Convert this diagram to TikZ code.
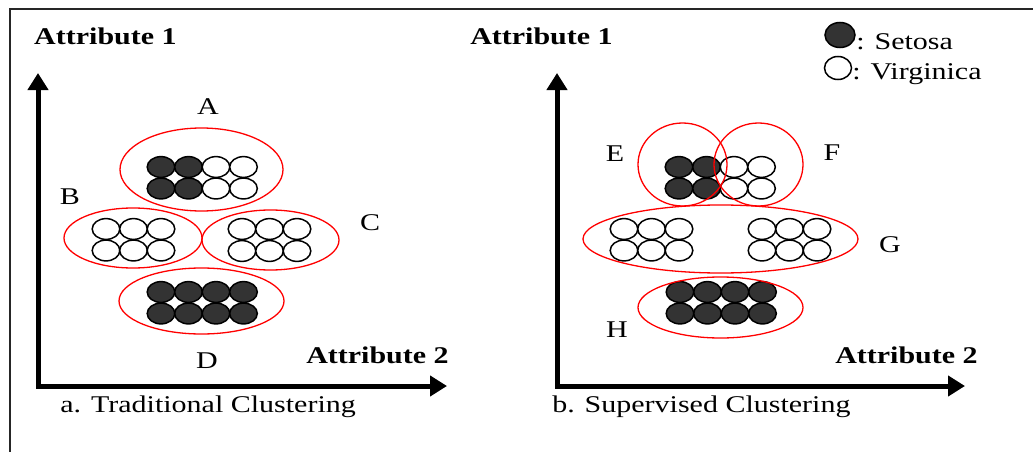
\documentclass[tikz,border=0pt]{standalone}
\usepackage{fontspec}
\setmainfont{Liberation Serif}
\usetikzlibrary{arrows.meta}

% grid of data points: #1 style, #2 column positions, #3 row positions
\newcommand\dotgrid[3]{%
  \foreach \cx in {#2}{\foreach \cy in {#3}{%
    \draw[#1] (\cx,\cy) ellipse[x radius=13.8pt, y radius=10.4pt];}}}

\begin{document}
\begin{tikzpicture}[x=1pt,y=-1pt,
  frame/.style={draw=black!85, line width=1.5pt},
  axis/.style={line width=5pt, line join=miter,
    {Triangle[length=17pt,width=20pt]}-{Triangle[length=17pt,width=20pt]}},
  lbl/.style={font=\fontsize{24}{28}\selectfont, xscale=1.25, inner sep=0pt},
  ttl/.style={lbl, font=\fontsize{24}{28}\selectfont\bfseries},
  setosa/.style={draw=black, fill=black!80, line width=1.5pt},
  virg/.style={draw=black, fill=white, line width=1.5pt},
  cluster/.style={draw=red, line width=1.3pt}]

\useasboundingbox[fill=white] (0,0) rectangle (1033,452);

% outer frame (left and top edges)
\draw[frame] (10,452) -- (10,9) -- (1033,9);

% ---------- a. Traditional clustering ----------
\coordinate (ya) at (38,73);
\coordinate (oa) at (38,386);
\coordinate (xa) at (447,386);
\draw[axis] (ya) -- (oa) -- (xa);

\node[ttl, anchor=base west] (attr1a) at (34,45) {Attribute 1};
\node[ttl, anchor=base west] (attr2a) at (306,363) {Attribute 2};
\node[lbl, anchor=base west] (capa) at (60,412) {a. Traditional Clustering};

% cluster A
\dotgrid{setosa}{161,188.5}{167,188.5}
\dotgrid{virg}{216,243.5}{167,188.5}
% cluster B
\dotgrid{virg}{106,133.5,161}{229,250.5}
% cluster C
\dotgrid{virg}{242,269.5,297}{229,251}
% cluster D
\dotgrid{setosa}{161,188.5,216,243.5}{292,313.5}

\draw[cluster] (201.5,169.5) ellipse[x radius=81.5pt, y radius=41.5pt];
\draw[cluster] (133,238) ellipse[x radius=69pt, y radius=30pt];
\draw[cluster] (270.5,240) ellipse[x radius=68.5pt, y radius=30pt];
\draw[cluster] (201.5,301) ellipse[x radius=82.5pt, y radius=33pt];

\node[lbl, anchor=base] (labA) at (208,114) {A};
\node[lbl, anchor=base] (labB) at (70,204) {B};
\node[lbl, anchor=base] (labC) at (370,230) {C};
\node[lbl, anchor=base] (labD) at (207,368) {D};

% ---------- b. Supervised clustering ----------
\coordinate (yb) at (557,73);
\coordinate (ob) at (557,386);
\coordinate (xb) at (965,386);
\draw[axis] (yb) -- (ob) -- (xb);

\node[ttl, anchor=base west] (attr1b) at (470,45) {Attribute 1};
\node[ttl, anchor=base west] (attr2b) at (835,363) {Attribute 2};
\node[lbl, anchor=base west] (capb) at (552,412) {b. Supervised Clustering};

% clusters E and F
\dotgrid{setosa}{679,706.5}{167,188.5}
\dotgrid{virg}{734,761.5}{167,188.5}
% cluster G
\dotgrid{virg}{624,651.5,679}{229,250.5}
\dotgrid{virg}{762,789.5,817}{229,250.5}
% cluster H
\dotgrid{setosa}{680,707.5,735,762.5}{292,313.5}

\draw[cluster] (682.5,164.5) ellipse[x radius=44.5pt, y radius=41.5pt];
\draw[cluster] (758.5,164.5) ellipse[x radius=44.5pt, y radius=41.5pt];
\draw[cluster] (720.5,239) ellipse[x radius=137.5pt, y radius=34pt];
\draw[cluster] (720.5,307.5) ellipse[x radius=82.5pt, y radius=30.5pt];

\node[lbl, anchor=base] (labE) at (615,161) {E};
\node[lbl, anchor=base] (labF) at (832,160) {F};
\node[lbl, anchor=base] (labG) at (890,252) {G};
\node[lbl, anchor=base] (labH) at (617,337) {H};

% ---------- legend ----------
\draw[setosa] (840,35) ellipse[x radius=15pt, y radius=12.5pt];
\draw[virg] (838,68) ellipse[x radius=13.5pt, y radius=11.5pt];
\node[lbl, anchor=base west] (legS) at (856,50) {: Setosa};
\node[lbl, anchor=base west] (legV) at (852,80) {: Virginica};

\end{tikzpicture}
\end{document}
